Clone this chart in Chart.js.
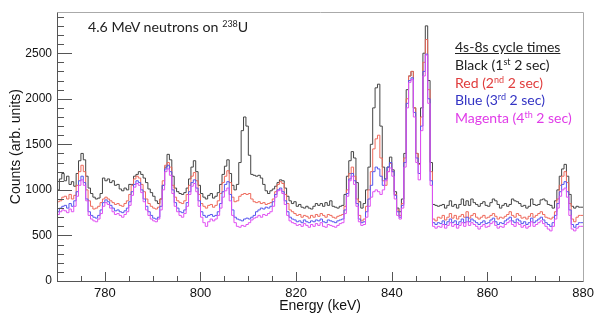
<!DOCTYPE html>
<html>
<head>
<meta charset="utf-8">
<script src="https://cdn.jsdelivr.net/npm/chart.js@4.4.1/dist/chart.umd.min.js"></script>
<style>
  body { margin: 0; background: #fff; }
  #wrap { position: relative; width: 599px; height: 320px; }
  .note { position: absolute; font-family: Lato, "Open Sans", sans-serif; white-space: nowrap; }
  #title { left: 88px; top: 18px; font-size: 14.2px; line-height: 18px; color: #222; }
  #legend { left: 455px; top: 38px; font-size: 14px; line-height: 17.8px; }
  sup { font-size: 9px; line-height: 0; vertical-align: 5px; }
</style>
</head>
<body>
<div id="wrap">
  <canvas id="chart" width="599" height="320"></canvas>
  <div class="note" id="title">4.6 MeV neutrons on <sup>238</sup>U</div>
  <div class="note" id="legend">
    <div style="color:#222;text-decoration:underline">4s-8s cycle times</div>
    <div style="color:#222">Black (1<sup>st</sup> 2 sec)</div>
    <div style="color:#e03c3c">Red (2<sup>nd</sup> 2 sec)</div>
    <div style="color:#3434c4">Blue (3<sup>rd</sup> 2 sec)</div>
    <div style="color:#e03ce8">Magenta (4<sup>th</sup> 2 sec)</div>
  </div>
</div>
<script>
// histogram bins: 0.5 keV wide, 770 - 880 keV
const lowEdge = 770;
const binWidth = 0.5;
const yTicks = [0, 500, 1000, 1500, 2000, 2500];
const xTicks = [780, 800, 820, 840, 860, 880];

// one row = 5 keV (10 bins)
const black = [
  990,1000,1120,1180,1100,1150,1060,1090,1040,1180,
  1320,1400,1330,1150,1020,960,920,900,910,960,
  1130,1100,1120,1080,1100,1050,1060,1010,990,1020,
  1000,1060,1060,1150,1170,1200,1170,1130,1080,1010,
  970,930,880,850,900,1050,1250,1390,1330,1150,
  1020,980,960,950,970,1020,1120,1250,1320,1200,
  1050,960,920,900,940,960,910,930,970,1060,
  1170,1260,1330,1180,1050,1000,1060,1300,1650,1800,
  1700,1380,1170,1160,1150,1160,1130,1060,990,960,
  990,1010,1040,1080,1110,1100,1020,930,880,850,
  870,820,840,810,800,820,800,790,820,850,
  830,850,820,860,830,880,820,810,800,820,
  830,950,1150,1320,1420,1350,1080,870,800,850,
  1000,1250,1500,1900,2120,2160,1700,1250,1120,1250,
  1360,1220,980,800,760,900,1400,2100,2250,2300,
  1900,1400,1290,1900,2500,2800,2200,1300,840,830,
  820,830,840,800,830,880,820,840,800,840,
  900,830,880,830,900,860,840,820,850,870,
  830,820,860,900,880,840,800,830,850,820,
  840,900,880,870,850,820,830,800,820,900,
  840,830,840,890,900,880,840,830,800,880,
  1000,1150,1230,1280,1150,950,820,800,820,810
];
const red = [
  860,870,880,920,930,900,950,900,940,1050,
  1200,1270,1200,1000,880,820,790,800,820,860,
  900,920,900,880,860,840,850,830,820,850,
  880,950,1050,1120,1150,1130,1060,980,900,850,
  820,800,790,810,900,1100,1270,1300,1250,1050,
  920,880,860,850,880,950,1050,1150,1190,1100,
  950,850,820,800,830,840,810,830,880,960,
  1080,1150,1210,1080,920,870,880,930,950,960,
  950,960,900,870,860,870,850,860,840,850,
  860,900,980,1060,1090,1070,950,850,780,760,
  740,720,730,700,720,710,690,720,700,730,
  710,740,720,700,730,720,700,690,710,720,
  730,820,1000,1180,1250,1150,900,720,660,680,
  820,1000,1200,1450,1560,1600,1350,1100,1050,1200,
  1290,1200,950,780,720,850,1350,2000,2250,2300,
  1900,1400,1280,1800,2400,2650,2100,1200,680,660,
  700,690,720,670,700,740,690,720,680,710,
  730,700,760,690,720,740,700,680,700,720,
  690,700,720,740,710,680,700,690,710,730,
  760,720,700,740,720,690,700,680,710,740,
  700,720,740,760,730,700,690,680,700,760,
  900,1050,1150,1200,1080,850,680,650,700,720
];
const blue = [
  780,760,800,820,830,800,850,820,880,980,
  1100,1150,1080,900,760,720,700,690,720,780,
  860,890,870,830,800,770,780,760,750,770,
  800,870,980,1060,1100,1080,1000,900,820,760,
  720,690,680,700,820,1050,1230,1270,1200,1000,
  860,800,760,750,780,860,980,1080,1110,1020,
  880,760,720,700,720,730,710,720,760,850,
  980,1060,1090,950,780,700,680,670,660,680,
  690,680,700,720,760,780,800,790,810,800,
  820,870,950,1000,1020,980,880,760,700,680,
  670,650,660,640,670,650,640,660,650,670,
  660,680,650,640,670,660,650,640,660,670,
  680,780,960,1120,1180,1100,850,680,640,650,
  760,900,1050,1200,1250,1230,1150,1050,1120,1250,
  1300,1200,940,760,700,830,1300,1950,2200,2230,
  1850,1350,1180,1700,2300,2490,2000,1100,640,620,
  640,630,660,620,650,680,640,660,620,650,
  680,640,700,650,680,660,640,620,640,660,
  630,640,670,690,650,620,640,630,660,680,
  700,660,640,680,660,630,650,620,640,690,
  640,660,680,700,670,640,620,600,640,720,
  850,980,1060,1090,980,780,620,590,620,640
];
const magenta = [
  720,730,760,780,770,750,790,760,820,930,
  1050,1110,1050,880,720,680,660,650,680,740,
  820,860,840,800,760,730,740,720,700,730,
  760,830,940,1030,1070,1050,970,870,780,720,
  680,660,650,680,780,1000,1200,1230,1160,960,
  820,760,720,700,740,820,950,1040,1070,980,
  820,700,640,600,650,680,660,680,720,800,
  920,990,1020,880,720,640,600,590,610,600,
  620,640,670,690,700,720,700,730,720,740,
  760,820,920,990,1000,960,840,720,660,640,
  630,610,620,600,630,610,590,620,600,630,
  610,640,600,590,620,610,600,590,610,630,
  640,740,930,1100,1150,1060,820,650,610,620,
  700,820,920,980,1000,980,950,1000,1100,1200,
  1240,1150,900,720,680,800,1250,1900,2180,2210,
  1800,1300,1110,1650,2250,2480,1950,1050,600,580,
  600,590,620,580,610,640,600,620,580,610,
  640,600,650,610,640,620,600,570,600,620,
  590,600,630,650,610,580,600,590,620,640,
  660,620,600,640,620,590,610,580,600,650,
  600,620,640,660,630,600,570,550,600,680,
  800,930,1000,1020,920,720,570,550,580,600
];

// step histogram points: low edge of each bin, plus closing edge
function toSteps(values) {
  const pts = values.map((v, i) => ({x: lowEdge + i * binWidth, y: v}));
  pts.push({x: lowEdge + values.length * binWidth, y: values[values.length - 1]});
  return pts;
}

function series(label, values, color, order) {
  return {
    label: label,
    data: toSteps(values),
    borderColor: color,
    borderWidth: 1,
    pointRadius: 0,
    stepped: 'after',
    fill: false,
    order: order
  };
}

// ROOT style frame with ticks drawn inside the plot
const frameTicks = {
  id: 'frameTicks',
  afterDatasetsDraw(chart) {
    const {ctx, chartArea: a, scales: {x, y}} = chart;
    ctx.save();
    ctx.lineWidth = 1;
    ctx.strokeStyle = '#555';
    for (let v = 0; v <= 2900; v += 100) {
      const py = Math.round(y.getPixelForValue(v)) + 0.5;
      const len = v % 500 === 0 ? 15 : 7;
      ctx.beginPath();
      ctx.moveTo(a.left, py);
      ctx.lineTo(a.left + len, py);
      ctx.stroke();
    }
    for (let v = 775; v < 880; v += 5) {
      const px = Math.round(x.getPixelForValue(v)) + 0.5;
      const len = v % 20 === 0 ? 9 : 5;
      ctx.beginPath();
      ctx.moveTo(px, a.bottom);
      ctx.lineTo(px, a.bottom - len);
      ctx.stroke();
    }
    const l = Math.round(a.left) + 0.5, r = Math.round(a.right) + 0.5;
    const t = Math.round(a.top) + 0.5, b = Math.round(a.bottom) + 0.5;
    ctx.strokeStyle = '#aaa';
    ctx.beginPath();
    ctx.moveTo(l, t); ctx.lineTo(r, t); ctx.lineTo(r, b);
    ctx.stroke();
    ctx.strokeStyle = '#555';
    ctx.beginPath();
    ctx.moveTo(l, t); ctx.lineTo(l, b); ctx.lineTo(r, b);
    ctx.stroke();
    ctx.restore();
  }
};

Chart.defaults.font.family = 'Liberation Sans';

new Chart(document.getElementById('chart'), {
  type: 'line',
  data: {
    datasets: [
      series('Black (1st 2 sec)', black, '#444444', 3),
      series('Red (2nd 2 sec)', red, '#ee6a5c', 2),
      series('Blue (3rd 2 sec)', blue, '#5656ee', 1),
      series('Magenta (4th 2 sec)', magenta, '#e050f2', 0)
    ]
  },
  options: {
    responsive: false,
    animation: false,
    layout: {padding: {top: 8, right: 12, left: 0, bottom: 0}},
    plugins: {legend: {display: false}, tooltip: {enabled: false}},
    scales: {
      x: {
        type: 'linear',
        min: 770,
        max: 880,
        afterBuildTicks: s => { s.ticks = xTicks.map(v => ({value: v})); },
        afterFit: s => { s.height = 39; },
        grid: {display: false, drawTicks: false},
        border: {display: false},
        ticks: {
          padding: 5,
          color: '#111',
          callback: v => String(v),
          font: {size: 13}
        },
        title: {
          display: true,
          text: 'Energy (keV)',
          color: '#111',
          padding: {top: 0, bottom: 5},
          font: {size: 14}
        }
      },
      y: {
        min: 0,
        max: 2950,
        afterBuildTicks: s => { s.ticks = yTicks.map(v => ({value: v})); },
        afterFit: s => { s.width = 57; },
        grid: {display: false, drawTicks: false},
        border: {display: false},
        ticks: {
          padding: 5,
          color: '#111',
          callback: v => String(v),
          font: {size: 12}
        },
        title: {
          display: true,
          text: 'Counts (arb. units)',
          color: '#111',
          padding: {top: 8, bottom: 0},
          font: {size: 14}
        }
      }
    }
  },
  plugins: [frameTicks]
});
</script>
</body>
</html>
